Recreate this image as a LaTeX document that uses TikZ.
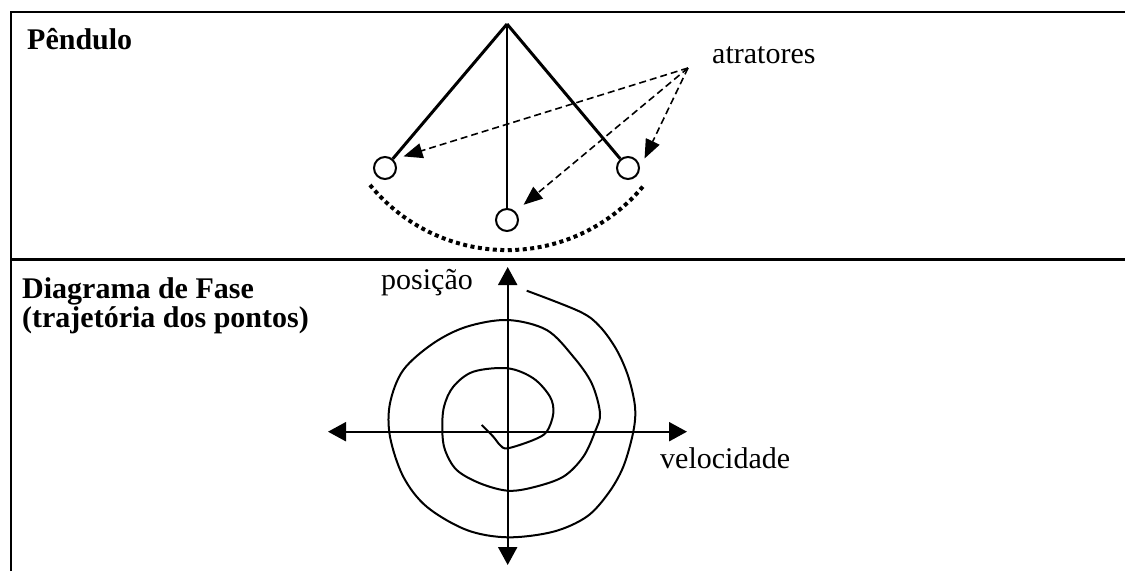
\documentclass[tikz,border=0pt]{standalone}
\usepackage{fontspec}
\setmainfont{Liberation Serif}
\usetikzlibrary{arrows.meta}
\begin{document}
\begin{tikzpicture}[x=1pt,y=-1pt,
  frame/.style={line width=2.5pt,black},
  lbl/.style={anchor=base west,inner sep=0pt,font=\fontsize{30}{34}\selectfont},
  title/.style={lbl,font=\fontsize{30}{34}\selectfont\bfseries},
  bob/.style={circle,draw,line width=2pt,minimum size=22pt,inner sep=0pt,fill=white},
  string/.style={line width=3pt},
  attr/.style={line width=1.6pt,dash pattern=on 7pt off 4pt,-{Triangle[length=19pt,width=15pt]},shorten >=10.5pt},
  swing/.style={line width=4pt,dash pattern=on 4pt off 3.5pt},
  axis/.style={line width=2.2pt,{Triangle[length=18pt,width=19pt]}-{Triangle[length=18pt,width=19pt]}},
  curve/.style={line width=2pt}]
\useasboundingbox (0,0) rectangle (1125,571);
% frame
\draw[frame] (11,571) -- (11,12) -- (1125,12);
\draw[frame] (11,259.5) -- (1125,259.5);
% titles
\node[title] (t1) at (27,49) {Pêndulo};
\node[title] (t2) at (22,298) {Diagrama de Fase};
\node[title] (t3) at (22,327) {(trajetória dos pontos)};
% pendulum
\coordinate (pv) at (507,24);
\node[bob] (lb) at (385,168) {};
\node[bob] (mb) at (507,220) {};
\node[bob] (rb) at (628,168) {};
\draw[string] (pv) -- (lb);
\draw[string,line width=2.4pt] (pv) -- (mb);
\draw[string] (pv) -- (rb);
\draw[swing] (370,185) arc[start angle=140.8,end angle=39.2,radius=176.9];
% attractors
\node[lbl] (at) at (712,63) {atratores};
\coordinate (ao) at (688,68);
\draw[attr] (ao) -- (lb.north east);
\draw[attr] (ao) -- (mb.north east);
\draw[attr] (ao) -- (rb.east);
% phase diagram
\coordinate (vt) at (507.7,267);
\coordinate (vb) at (507.7,565);
\coordinate (hl) at (328,431.7);
\coordinate (hr) at (687,431.7);
\draw[axis] (vb) -- (vt);
\draw[axis] (hl) -- (hr);
\node[lbl] (pos) at (381,289) {posição};
\node[lbl] (vel) at (660,468) {velocidade};
\draw[curve] plot[smooth,tension=0.55] coordinates {
 (526.7,290.7) (580,311.7) (600,326.7) (616.7,350) (628.3,376.7) (635,406.7)
 (633.3,431.7) (623.3,466.7) (608.3,493.3) (586.7,516.7) (553.3,531.7) (507.7,537.3)
 (466.7,530) (426.7,506.7) (403.3,476.7) (390,436.7) (390,403.3) (403.3,370)
 (433.3,343.3) (466.7,326.7) (507.7,320) (546.7,330) (573.3,356.7) (591.7,383.3)
 (600,413.3) (595,431.7) (583.3,456.7) (563.3,476.7) (533.3,487.3) (507.7,490.7)
 (480,483.3) (456.7,470) (445,450) (442.3,430) (444,406.7) (453.3,386.7)
 (473.3,371.7) (507.7,368.3) (533.3,378.3) (550,396.7) (553.3,413.3) (546.7,431.7)
 (533.3,440) (507.7,448.3) (500,445) (493.3,436.7) (481.7,425)};
\end{tikzpicture}
\end{document}
